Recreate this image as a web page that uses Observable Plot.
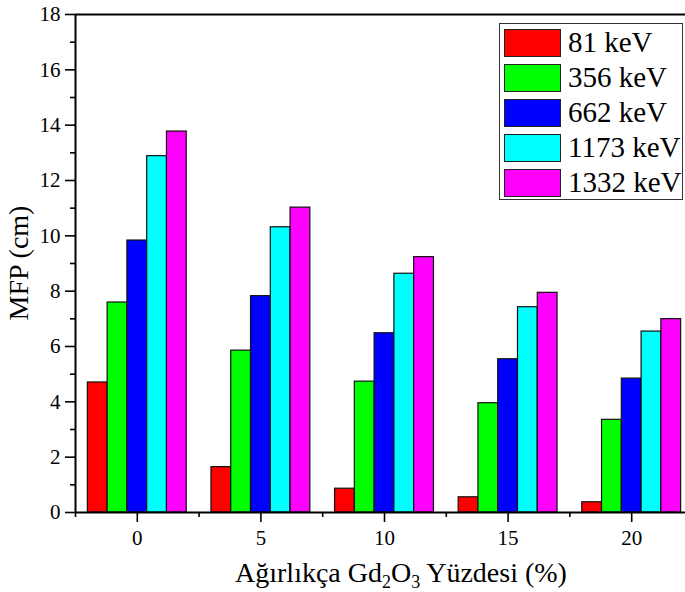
<!DOCTYPE html>
<html><head><meta charset="utf-8">
<script src="https://cdn.jsdelivr.net/npm/d3@7"></script>
<script src="https://cdn.jsdelivr.net/npm/@observablehq/plot@0.6"></script>
<style>
html,body{margin:0;padding:0;background:#fff;overflow:hidden;}
#wrap{position:relative;width:685px;height:592px;overflow:hidden;font-family:"Liberation Serif",Tinos,"Times New Roman",Times,"DejaVu Serif",serif;}
#wrap svg{position:absolute;left:0;top:0;max-width:none !important;height:592px !important;}
#wrap svg text, #wrap svg g{font-family:"Liberation Serif",Tinos,"Times New Roman",Times,"DejaVu Serif",serif !important;}
#legend{position:absolute;left:499px;top:23px;width:184px;height:177px;border:1px solid #333;background:#fff;box-sizing:border-box;}
.row{position:absolute;left:4px;height:28px;}
.sw{position:absolute;left:0;top:0;width:57px;height:28px;border:1px solid #222;box-sizing:border-box;}
.lab{position:absolute;left:64px;top:-4px;font-size:29px;line-height:34px;white-space:nowrap;color:#000;}
</style></head><body><div id="wrap"></div>
<script>
const groups = [0, 5, 10, 15, 20];
const energies = ["81 keV", "356 keV", "662 keV", "1173 keV", "1332 keV"];
const colors = ["#ff0000", "#00ff00", "#0000ff", "#00ffff", "#ff00ff"];
const mfp81   = [4.70, 1.64, 0.86, 0.55, 0.37];
const mfp356  = [7.59, 5.85, 4.73, 3.95, 3.35];
const mfp662  = [9.83, 7.82, 6.48, 5.54, 4.84];
const mfp1173 = [12.88, 10.31, 8.63, 7.42, 6.54];
const mfp1332 = [13.77, 11.02, 9.23, 7.94, 6.99];
const yMajor = [0, 2, 4, 6, 8, 10, 12, 14, 16, 18];
const yMinor = [1, 3, 5, 7, 9, 11, 13, 15, 17];
const xMajor = [0, 5, 10, 15, 20];
const xMinor = [-2.5, 2.5, 7.5, 12.5, 17.5, 22.5];

const series = [mfp81, mfp356, mfp662, mfp1173, mfp1332];
const barW = 0.8;
const data = [];
groups.forEach((g, i) => {
  series.forEach((s, j) => {
    const x1 = g + (j - series.length / 2) * barW;
    data.push({x1, x2: x1 + barW, y: s[i], energy: energies[j]});
  });
});

const FF = "'Liberation Serif', Tinos, 'Times New Roman', Times, 'DejaVu Serif', serif";
const empty = () => "";
const plot = Plot.plot({
  width: 700, height: 592,
  marginLeft: 75, marginRight: 7, marginTop: 14, marginBottom: 80,
  style: {fontFamily: FF, fontSize: "21px", color: "#000", background: "#fff"},
  x: {type: "linear", domain: [-2.5, 22.5]},
  y: {domain: [0, 18]},
  color: {domain: energies, range: colors},
  marks: [
    Plot.rectY(data, {x1: "x1", x2: "x2", y: "y", fill: "energy", stroke: "#111", strokeWidth: 1.2}),
    Plot.ruleY([0], {stroke: "#000", strokeWidth: 2}),
    Plot.ruleY([18], {stroke: "#000", strokeWidth: 2}),
    Plot.ruleX([-2.5], {stroke: "#000", strokeWidth: 2}),
    Plot.axisY(yMajor, {tickSize: 10, tickPadding: 5, label: null, fontSize: 21, strokeWidth: 1.6}),
    Plot.axisY(yMinor, {tickSize: 5, tickFormat: empty, label: null, strokeWidth: 1.6}),
    Plot.axisX(xMajor, {tickSize: 10, tickPadding: 8, label: null, fontSize: 21, strokeWidth: 1.6}),
    Plot.axisX(xMinor, {tickSize: 5, tickFormat: empty, label: null, strokeWidth: 1.6})
  ]
});
plot.style.maxWidth = "none";
plot.style.height = "592px";
const wrap = document.getElementById("wrap");
wrap.appendChild(plot);

const svg = d3.select(plot);
svg.append("text")
  .attr("transform", "translate(28,263) rotate(-90)")
  .attr("text-anchor", "middle")
  .attr("font-size", 28)
  .attr("fill", "#000")
  .text("MFP (cm)");

const xt = svg.append("text")
  .attr("x", 401).attr("y", 582)
  .attr("text-anchor", "middle")
  .attr("font-size", 28)
  .attr("fill", "#000");
xt.append("tspan").text("Ağırlıkça Gd");
xt.append("tspan").attr("font-size", 18).attr("dy", 6).text("2");
xt.append("tspan").attr("dy", -6).text("O");
xt.append("tspan").attr("font-size", 18).attr("dy", 6).text("3");
xt.append("tspan").attr("dy", -6).text(" Yüzdesi (%)");

const legend = document.createElement("div");
legend.id = "legend";
energies.forEach((e, j) => {
  const row = document.createElement("div");
  row.className = "row";
  row.style.top = (5 + j * 35) + "px";
  const sw = document.createElement("div");
  sw.className = "sw";
  sw.style.background = colors[j];
  const lab = document.createElement("div");
  lab.className = "lab";
  lab.textContent = e;
  row.appendChild(sw); row.appendChild(lab);
  legend.appendChild(row);
});
wrap.appendChild(legend);
</script>
</body></html>
